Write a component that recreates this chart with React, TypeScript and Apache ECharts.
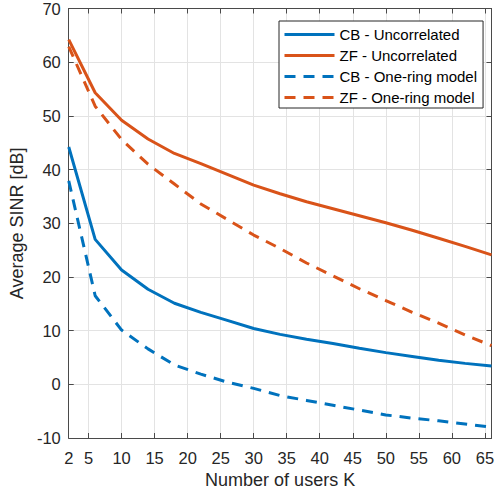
import React, { useEffect, useRef } from "react";
import * as echarts from "echarts";

// Number of users K at which each curve is evaluated
const usersK = [2, 6, 10, 14, 18, 22, 26, 30, 34, 38, 42, 46, 50, 54, 58, 62, 66];

// Average SINR [dB] per scheme
const cbUncorrelated = [44.2, 27.0, 21.3, 17.7, 15.1, 13.4, 11.9, 10.4, 9.3, 8.4, 7.6, 6.7, 5.9, 5.2, 4.5, 3.9, 3.4];
const zfUncorrelated = [64.2, 54.3, 49.2, 45.7, 43.0, 41.1, 39.1, 37.1, 35.5, 34.0, 32.7, 31.4, 30.1, 28.7, 27.2, 25.7, 24.1];
const cbOneRing = [37.9, 16.5, 10.1, 6.6, 3.6, 1.9, 0.4, -0.75, -2.1, -3.0, -3.9, -4.8, -5.7, -6.3, -6.8, -7.4, -8.0];
const zfOneRing = [62.9, 51.8, 45.6, 41.0, 37.3, 33.6, 30.7, 27.8, 25.3, 22.6, 20.2, 17.8, 15.6, 13.4, 11.4, 9.2, 7.2];

// Tick positions on the K axis
const xTicks = [2, 5, 10, 15, 20, 25, 30, 35, 40, 45, 50, 55, 60, 65];

const seriesNames = [
  "CB - Uncorrelated",
  "ZF - Uncorrelated",
  "CB - One-ring model",
  "ZF - One-ring model",
];

const BLUE = "#0072BD";
const ORANGE = "#D95319";
const AXIS = "#4a4a4a";
const TEXT = "#262626";
const GRID = "#e3e3e3";
const FONT = "'Liberation Sans', Arial, Helvetica, sans-serif";

const pairs = (ys: number[]) => usersK.map((k, i) => [k, ys[i]]);

export default function App() {
  const ref = useRef<HTMLDivElement>(null);

  useEffect(() => {
    if (!ref.current) return;
    const chart = echarts.init(ref.current, undefined, { renderer: "svg" });

    const lineSeries = (name: string, ys: number[], color: string, dashed: boolean) => ({
      name,
      type: "line",
      data: pairs(ys),
      symbol: "none",
      showSymbol: false,
      xAxisIndex: 0,
      yAxisIndex: 0,
      lineStyle: { color, width: 3, type: dashed ? [11, 8] : "solid" },
      itemStyle: { color },
      z: 3,
    });

    chart.setOption({
      animation: false,
      backgroundColor: "#ffffff",
      textStyle: { fontFamily: FONT },
      grid: { left: 65, right: 2, top: 7, bottom: 57, containLabel: false },
      legend: {
        orient: "vertical",
        left: 279,
        top: 21,
        padding: [6, 6, 3, 4],
        itemWidth: 50,
        itemHeight: 14,
        itemGap: 6,
        backgroundColor: "#ffffff",
        borderColor: TEXT,
        borderWidth: 1,
        borderRadius: 0,
        itemStyle: { opacity: 0 },
        lineStyle: { width: 3 },
        textStyle: { fontSize: 15, color: "#000000", fontFamily: FONT },
        data: seriesNames,
      },
      xAxis: [
        {
          type: "value",
          min: 2,
          max: 66,
          position: "bottom",
          name: "Number of users K",
          nameLocation: "middle",
          nameGap: 33,
          nameTextStyle: { fontSize: 18, color: TEXT, fontFamily: FONT },
          axisLine: { show: true, onZero: false, lineStyle: { color: AXIS, width: 1 } },
          axisTick: { show: true, inside: true, length: 5, customValues: xTicks, lineStyle: { color: AXIS } },
          axisLabel: { customValues: xTicks, fontSize: 16.5, color: TEXT, margin: 11, fontFamily: FONT },
          splitLine: { show: true, lineStyle: { color: GRID, width: 1 } },
        },
        {
          type: "value",
          min: 2,
          max: 66,
          position: "top",
          axisLine: { show: true, onZero: false, lineStyle: { color: AXIS, width: 1 } },
          axisTick: { show: true, inside: true, length: 5, customValues: xTicks, lineStyle: { color: AXIS } },
          axisLabel: { show: false },
          splitLine: { show: false },
        },
      ],
      yAxis: [
        {
          type: "value",
          min: -10,
          max: 70,
          interval: 10,
          position: "left",
          name: "Average SINR [dB]",
          nameLocation: "middle",
          nameGap: 40,
          nameTextStyle: { fontSize: 18, color: TEXT, fontFamily: FONT },
          axisLine: { show: true, onZero: false, lineStyle: { color: AXIS, width: 1 } },
          axisTick: { show: true, inside: true, length: 5, lineStyle: { color: AXIS } },
          axisLabel: { fontSize: 16.5, color: TEXT, margin: 8, fontFamily: FONT },
          splitLine: { show: true, lineStyle: { color: GRID, width: 1 } },
        },
        {
          type: "value",
          min: -10,
          max: 70,
          interval: 10,
          position: "right",
          axisLine: { show: true, onZero: false, lineStyle: { color: AXIS, width: 1 } },
          axisTick: { show: true, inside: true, length: 5, lineStyle: { color: AXIS } },
          axisLabel: { show: false },
          splitLine: { show: false },
        },
      ],
      series: [
        lineSeries(seriesNames[0], cbUncorrelated, BLUE, false),
        lineSeries(seriesNames[1], zfUncorrelated, ORANGE, false),
        lineSeries(seriesNames[2], cbOneRing, BLUE, true),
        lineSeries(seriesNames[3], zfOneRing, ORANGE, true),
      ],
    });

    return () => chart.dispose();
  }, []);

  return (
    <div
      ref={ref}
      style={{ position: "fixed", left: 0, top: 0, width: 497, height: 495, background: "#fff" }}
    />
  );
}
